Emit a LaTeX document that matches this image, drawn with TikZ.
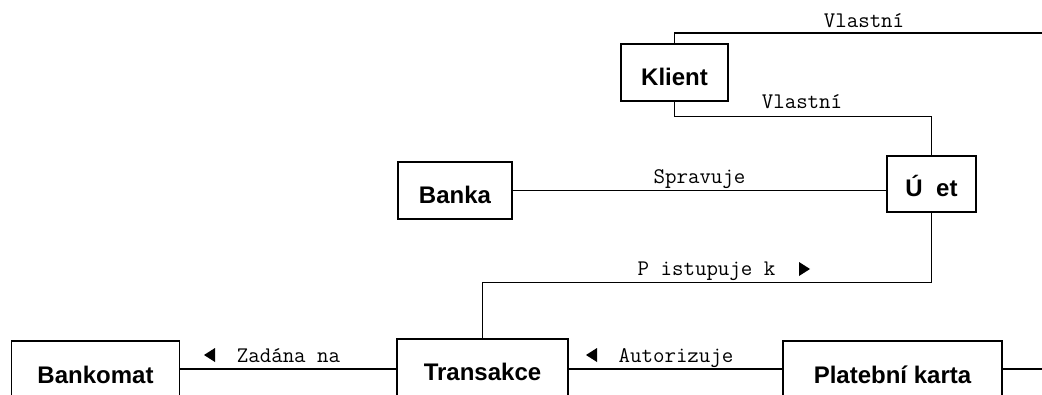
\documentclass[tikz,border=0pt]{standalone}
\usepackage{fontspec}
\setmainfont{Liberation Sans}
\begin{document}
\begin{tikzpicture}[x=1pt,y=-1pt,line width=1.2pt,
  entity/.style={draw,line width=1.2pt,inner sep=0pt,text height=25pt,text depth=0pt,
    font=\fontsize{24}{24}\selectfont\bfseries},
  rel/.style={anchor=base,inner sep=0pt,font=\ttfamily\fontsize{22.3}{22.3}\selectfont}]
\useasboundingbox (0,0) rectangle (1042,394);
\clip (0,0) rectangle (1042,394);
% entities
\node[entity,minimum width=107pt,minimum height=57pt] (Klient) at (674.5,72.5) {Klient};
\node[entity,minimum width=89pt,minimum height=56pt] (Ucet) at (931.5,184) {Ú\phantom{č}et};
\node[entity,minimum width=114pt,minimum height=57pt] (Banka) at (455,190.5) {Banka};
\node[entity,minimum width=167.5pt,minimum height=59pt] (Bankomat) at (95.5,370.5) {Bankomat};
\node[entity,minimum width=171pt,minimum height=57pt] (Transakce) at (482.5,367.5) {Transakce};
\node[entity,minimum width=219pt,minimum height=59pt] (Karta) at (892.5,370.5) {Platební karta};
% free ends and line levels
\coordinate (topright) at (1042,33);
\coordinate (kartaright) at (1042,369);
\coordinate (lowline) at (0,369);
% connectors
\draw (Klient.north) |- (topright);
\draw (Klient.south) -- ++(0,15) coordinate (k1) -| (Ucet.north);
\draw (Banka.east) -- (Banka.east -| Ucet.west);
\draw (Ucet.south) -- ++(0,70) coordinate (u1) -| (Transakce.north);
\draw (Bankomat.east |- lowline) -- (Transakce.west |- lowline);
\draw (Transakce.east |- lowline) -- (Karta.west |- lowline);
\draw (Karta.east |- lowline) -- (kartaright);
% labels
\node[rel] (l1) at (864,27) {Vlastní};
\node[rel] (l2) at (802,108) {Vlastní};
\node[rel] (l3) at (699.5,183) {Spravuje};
\node[rel] (l4) at (706.5,275) {P\phantom{ř}istupuje k};
\node[rel] (l5) at (288.5,362) {Zadána na};
\node[rel] (l6) at (676,362) {Autorizuje};
% direction triangles
\fill (799,262) -- (799,276) -- (810,269) -- cycle;
\fill (215,348) -- (215,362) -- (204,355) -- cycle;
\fill (597,348) -- (597,362) -- (586,355) -- cycle;
\end{tikzpicture}
\end{document}
